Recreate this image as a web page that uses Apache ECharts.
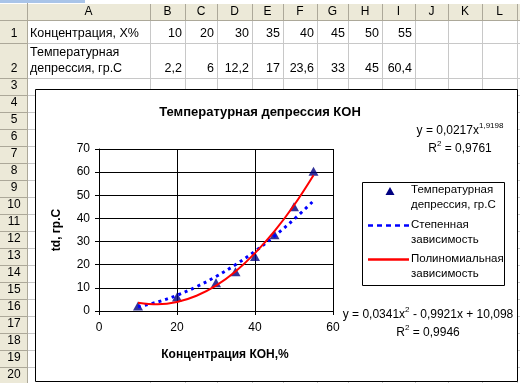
<!DOCTYPE html>
<html><head><meta charset="utf-8">
<script src="https://cdn.jsdelivr.net/npm/echarts@6/dist/echarts.min.js"></script>
<style>html,body{margin:0;padding:0;background:#fff;overflow:hidden}#c{width:520px;height:383px}</style>
</head><body><div id="c"></div>
<script>
// ---- data ----
const concentration = [10, 20, 30, 35, 40, 45, 50, 55];
const depression = [2.2, 6, 12.2, 17, 23.6, 33, 45, 60.4];
const trendX = [10, 15, 20, 25, 30, 35, 40, 45, 50, 55];
const powerTrend = [1.8, 3.9, 6.8, 10.5, 14.9, 20.0, 25.8, 32.4, 39.6, 47.6];
const polyTrend = [3.6, 2.9, 3.9, 6.6, 11.0, 17.1, 25.0, 34.5, 45.7, 58.7];
const xTickLabels = [0, 20, 40, 60];
const yTickLabels = [0, 10, 20, 30, 40, 50, 60, 70];
const columnLetters = ['A','B','C','D','E','F','G','H','I','J','K','L'];
const rowNumbers = [1,2,3,4,5,6,7,8,9,10,11,12,13,14,15,16,17,18,19,20];
const rowLabels = ['Концентрация, X%', 'Температурная\nдепрессия, гр.С'];
const chartTitle = 'Температурная депрессия КОН';
const xName = 'Концентрация КОН,%';
const yName = 'td, гр.С';
const seriesNames = ['Температурная\nдепрессия, гр.С', 'Степенная\nзависимость', 'Полиномиальная\nзависимость'];
const powerEquation = ['y = 0,0217x', '1,9198', 'R', '2', ' = 0,9761'];
const polyEquation = ['y = 0,0341x', '2', ' - 0,9921x + 10,098', 'R', '2', ' = 0,9946'];

// ---- layout (styles / positions) ----
const FONT = 'Arial, "Liberation Sans", sans-serif';
const colEdges = [27, 150, 185, 217, 252, 283, 317, 348, 382, 415, 448, 482, 517];
const rowEdges = [20, 43, 78];
for (let i = 0; i < 18; i++) rowEdges.push(rowEdges[rowEdges.length - 1] + 17);
const HDR_BG = '#ECE9D8', HDR_LINE = '#ACA899', GRID_LINE = '#C8C8C8';

const g = [];
function line(x1, y1, x2, y2, color, z) {
  g.push({type: 'line', z: z, silent: true, shape: {x1, y1, x2, y2}, style: {stroke: color, lineWidth: 1}});
}
function text(t, x, y, align, size) {
  g.push({type: 'text', z: -5, silent: true,
    style: {text: t, x, y, align: align, verticalAlign: 'middle', font: (size || 12.5) + 'px ' + FONT, fill: '#000'}});
}
// background
g.push({type: 'rect', z: -20, silent: true, shape: {x: 0, y: 0, width: 520, height: 383}, style: {fill: '#fff'}});
g.push({type: 'rect', z: -19, silent: true, shape: {x: 0, y: 0, width: 85, height: 3}, style: {fill: '#A9C4E8'}});
g.push({type: 'rect', z: -19, silent: true, shape: {x: 0, y: 3, width: 520, height: 17}, style: {fill: HDR_BG}});
g.push({type: 'rect', z: -19, silent: true, shape: {x: 0, y: 3, width: 27, height: 380}, style: {fill: HDR_BG}});
// cell grid lines
colEdges.forEach(x => line(x + 0.5, 20, x + 0.5, 383, GRID_LINE, -18));
rowEdges.forEach(y => line(27, y + 0.5, 520, y + 0.5, GRID_LINE, -18));
// header lines
colEdges.forEach(x => line(x + 0.5, 3, x + 0.5, 20, HDR_LINE, -17));
line(0, 20.5, 520, 20.5, HDR_LINE, -17);
line(0, 3.5, 520, 3.5, '#fff', -17);
line(27.5, 3, 27.5, 383, HDR_LINE, -17);
rowEdges.forEach(y => line(0, y + 0.5, 27, y + 0.5, HDR_LINE, -17));
// header labels
columnLetters.forEach((c, i) => text(c, (colEdges[i] + colEdges[i + 1]) / 2, 12, 'center', 12));
rowNumbers.forEach((n, i) => {
  const bottom = rowEdges[i + 1];
  if (bottom !== undefined) text(String(n), 14, bottom - 9, 'center', 12);
});
// cell contents
text(rowLabels[0], 30, rowEdges[1] - 9, 'left');
text(rowLabels[1].split('\n')[0], 30, rowEdges[2] - 25, 'left');
text(rowLabels[1].split('\n')[1], 30, rowEdges[2] - 9, 'left');
const fmt = v => String(v).replace('.', ',');
concentration.forEach((v, i) => text(fmt(v), colEdges[i + 2] - 3, rowEdges[1] - 9, 'right'));
depression.forEach((v, i) => text(fmt(v), colEdges[i + 2] - 3, rowEdges[2] - 9, 'right'));
// chart area
g.push({type: 'rect', z: -3, silent: true, shape: {x: 35.5, y: 89.5, width: 482, height: 292},
  style: {fill: '#fff', stroke: '#000', lineWidth: 1}});
// legend box
g.push({type: 'rect', z: 5, silent: true, shape: {x: 362.5, y: 182.5, width: 142, height: 103},
  style: {fill: '#fff', stroke: '#000', lineWidth: 1}});
g.push({type: 'polygon', z: 6, silent: true, shape: {points: [[390, 187], [394.5, 195], [385.5, 195]]}, style: {fill: '#000080'}});
g.push({type: 'line', z: 6, silent: true, shape: {x1: 368, y1: 225.5, x2: 409, y2: 225.5},
  style: {stroke: '#0000FF', lineWidth: 2.5, lineDash: [5, 4]}});
g.push({type: 'line', z: 6, silent: true, shape: {x1: 368, y1: 259.5, x2: 409, y2: 259.5},
  style: {stroke: '#FF0000', lineWidth: 2.5}});
const legY = [190, 225, 259];
seriesNames.forEach((nm, i) => {
  const parts = nm.split('\n');
  parts.forEach((p, j) => g.push({type: 'text', z: 6, silent: true,
    style: {text: p, x: 411, y: legY[i] + j * 15, align: 'left', verticalAlign: 'middle', font: '11.5px ' + FONT, fill: '#000'}}));
});
// trendline equations
const rich = {n: {fontSize: 12, fontFamily: FONT, lineHeight: 18, verticalAlign: 'middle'},
              s: {fontSize: 8, fontFamily: FONT, verticalAlign: 'top'}};
g.push({type: 'text', z: 6, silent: true, style: {
  text: '{n|' + powerEquation[0] + '}{s|' + powerEquation[1] + '}\n{n|' + powerEquation[2] + '}{s|' + powerEquation[3] + '}{n|' + powerEquation[4] + '}',
  x: 460, y: 140, align: 'center', verticalAlign: 'middle', rich: rich, fill: '#000'}});
g.push({type: 'text', z: 6, silent: true, style: {
  text: '{n|' + polyEquation[0] + '}{s|' + polyEquation[1] + '}{n|' + polyEquation[2] + '}\n{n|' + polyEquation[3] + '}{s|' + polyEquation[4] + '}{n|' + polyEquation[5] + '}',
  x: 428, y: 324, align: 'center', verticalAlign: 'middle', rich: rich, fill: '#000'}});

const chart = echarts.init(document.getElementById('c'), null, {renderer: 'canvas'});
const axisCommon = {
  axisLine: {show: true, lineStyle: {color: '#000', width: 1}},
  axisTick: {show: true, inside: false, length: 4, lineStyle: {color: '#000'}},
  splitLine: {show: true, lineStyle: {color: '#000', width: 1}},
  axisLabel: {color: '#000', fontSize: 12, fontFamily: FONT},
  nameTextStyle: {color: '#000', fontSize: 12, fontWeight: 'bold', fontFamily: FONT}
};
chart.setOption({
  animation: false,
  backgroundColor: 'transparent',
  title: {text: chartTitle, left: 'center', top: 106, padding: 0,
    textStyle: {fontSize: 13, fontWeight: 'bold', fontFamily: FONT, color: '#000'}},
  graphic: {elements: g},
  grid: {left: 99, right: 187, top: 149, bottom: 72, containLabel: false},
  xAxis: Object.assign({}, axisCommon, {
    type: 'value', min: 0, max: 60, interval: 20,
    axisLabel: Object.assign({}, axisCommon.axisLabel, {margin: 11,
      formatter: v => xTickLabels.includes(v) ? String(v) : ''}),
    name: xName, nameLocation: 'middle', nameGap: 38,
    nameTextStyle: Object.assign({}, axisCommon.nameTextStyle, {padding: [0, 0, 0, 18]})
  }),
  yAxis: Object.assign({}, axisCommon, {
    type: 'value', min: 0, max: 70, interval: 10,
    axisLabel: Object.assign({}, axisCommon.axisLabel, {margin: 9,
      formatter: v => yTickLabels.includes(v) ? String(v) : ''}),
    name: yName, nameLocation: 'middle', nameGap: 36, nameRotate: 90
  }),
  series: [
    {name: seriesNames[0], type: 'scatter', z: 3, symbol: 'triangle', symbolSize: [10, 9],
     itemStyle: {color: '#000080'}, data: concentration.map((x, i) => [x, depression[i]])},
    {name: seriesNames[1], type: 'line', z: 4, smooth: 0.4, showSymbol: false, symbol: 'none',
     lineStyle: {color: '#0000FF', width: 3, type: [3, 4], cap: 'butt'},
     data: trendX.map((x, i) => [x, powerTrend[i]])},
    {name: seriesNames[2], type: 'line', z: 5, smooth: 0.4, showSymbol: false, symbol: 'none',
     lineStyle: {color: '#FF0000', width: 2},
     data: trendX.map((x, i) => [x, polyTrend[i]])}
  ]
});
</script>
</body></html>
